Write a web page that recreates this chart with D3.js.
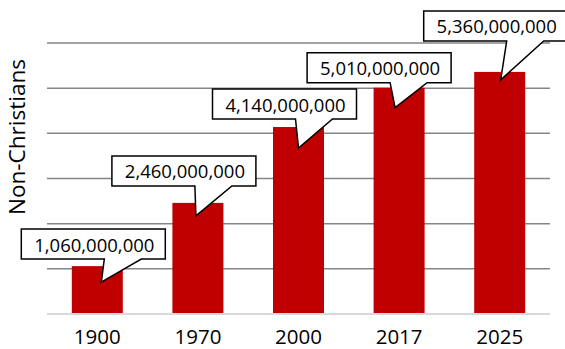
<!DOCTYPE html>
<html lang="en">
<head>
<meta charset="utf-8">
<title>Non-Christians</title>
<script src="https://d3js.org/d3.v7.min.js"></script>
<style>
  body { margin: 0; background: #fff; }
  text { font-family: "Open Sans", sans-serif; fill: #000; }
</style>
</head>
<body>
<svg id="chart" width="565" height="349"></svg>
<script type="text/javascript">
// data
var years = ["1900", "1970", "2000", "2017", "2025"];
var nonChristians = [1060000000, 2460000000, 4140000000, 5010000000, 5360000000];
var gridTicks = [0, 1e9, 2e9, 3e9, 4e9, 5e9, 6e9];

// callout placement (tip offset from bar top centre, box offset from tip)
var calloutLayout = [
  { tipDx: 4,  tipDy: 16, boxDx: -80, boxDy: -53 },
  { tipDx: -2, tipDy: 13, boxDx: -84, boxDy: -60 },
  { tipDx: 0,  tipDy: 21, boxDx: -86, boxDy: -59 },
  { tipDx: -4, tipDy: 20, boxDx: -88, boxDy: -55 },
  { tipDx: 1,  tipDy: 8,  boxDx: -77, boxDy: -69 }
];

var svg = d3.select("#chart");
var plotL = 47, plotR = 550, plotT = 43, plotB = 314;

var x = d3.scaleBand().domain(years).range([plotL, plotR])
    .paddingInner(0.493).paddingOuter(0.2465);
var y = d3.scaleLinear().domain([0, 6e9]).range([plotB, plotT]);

//////////////////////////////////////
// gridlines
svg.append("g").selectAll("line")
  .data(gridTicks.filter(function(d){ return d > 0; }))
  .enter().append("line")
    .attr("x1", plotL).attr("x2", plotR)
    .attr("y1", function(d){ return y(d); })
    .attr("y2", function(d){ return y(d); })
    .attr("stroke", "#858585").attr("stroke-width", 1.5);

//////////////////////////////////////
// bars
var rows = years.map(function(yr, i){ return { year: yr, value: nonChristians[i], lay: calloutLayout[i] }; });

svg.append("g").selectAll("rect")
  .data(rows).enter().append("rect")
    .attr("x", function(d){ return x(d.year); })
    .attr("width", x.bandwidth())
    .attr("y", function(d){ return y(d.value); })
    .attr("height", function(d){ return plotB - y(d.value); })
    .attr("fill", "#c00000");

// baseline
svg.append("line")
  .attr("x1", plotL).attr("x2", plotR)
  .attr("y1", plotB).attr("y2", plotB)
  .attr("stroke", "#d9d9d9").attr("stroke-width", 2);

// x axis
var xAxis = svg.append("g")
  .attr("transform", "translate(0," + plotB + ")")
  .call(d3.axisBottom(x).tickSize(0).tickPadding(0));
xAxis.select(".domain").remove();
xAxis.selectAll("text")
  .attr("dy", null).attr("y", 29.5)
  .style("font-family", "'Open Sans', sans-serif")
  .style("font-size", "20.5px").style("fill", "#000");

// y title
svg.append("text")
  .attr("transform", "translate(25,137) rotate(-90)")
  .attr("text-anchor", "middle")
  .style("font-size", "22.5px")
  .text("Non-Christians");

//////////////////////////////////////
// callouts
var fmt = d3.format(",");
var boxW = 144, boxH = 30;

var callout = svg.append("g").selectAll("g")
  .data(rows).enter().append("g");

callout.append("path")
  .attr("d", function(d){
    var tx = x(d.year) + x.bandwidth() / 2 + d.lay.tipDx;
    var ty = y(d.value) + d.lay.tipDy;
    var bx = tx + d.lay.boxDx, by = ty + d.lay.boxDy;
    var b1 = bx + 83, b2 = bx + 120;
    return "M" + bx + "," + by +
      "H" + (bx + boxW) + "V" + (by + boxH) +
      "H" + b2 + "L" + tx + "," + ty + "L" + b1 + "," + (by + boxH) +
      "H" + bx + "Z";
  })
  .attr("fill", "#fff").attr("stroke", "#000").attr("stroke-width", 1.5)
  .attr("stroke-linejoin", "miter");

callout.append("text")
  .attr("x", function(d){ return x(d.year) + x.bandwidth() / 2 + d.lay.tipDx + d.lay.boxDx + boxW / 2 + 1; })
  .attr("y", function(d){ return y(d.value) + d.lay.tipDy + d.lay.boxDy + 22.5; })
  .attr("text-anchor", "middle")
  .style("font-size", "18.5px")
  .text(function(d){ return fmt(d.value); });
</script>
</body>
</html>
